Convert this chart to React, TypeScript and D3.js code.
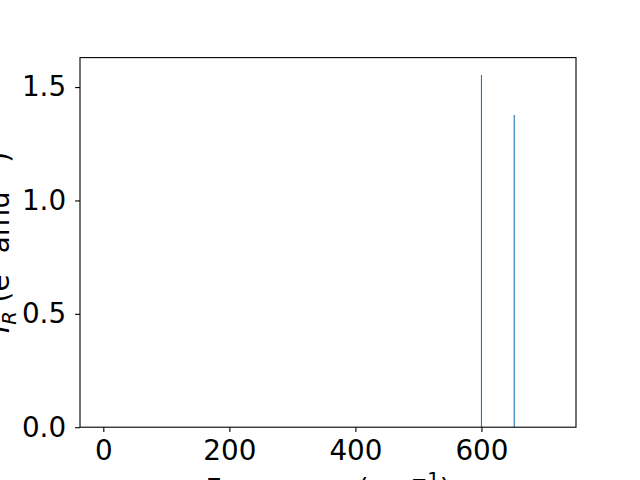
import React, { useEffect, useRef } from "react";
import * as d3 from "d3";

// IR spectrum sticks: frequency (cm^-1) and intensity
const frequencies = [600, 652];
const intensities = [1.553, 1.377];
const xTicks = [0, 200, 400, 600];
const yTicks = [0.0, 0.5, 1.0, 1.5];

export default function App() {
  const ref = useRef<SVGSVGElement>(null);

  useEffect(() => {
    const width = 640,
      height = 480;
    const left = 80,
      right = 576,
      top = 57.6,
      bottom = 427.2;
    const font = "DejaVu Sans, sans-serif";
    const fs = 27.8;
    const small = 19.5;

    const svg = d3.select(ref.current);
    svg.selectAll("*").remove();

    svg.append("rect").attr("width", width).attr("height", height).attr("fill", "white");

    const x = d3.scaleLinear().domain([-37, 750]).range([left, right]);
    const y = d3.scaleLinear().domain([0, 1.63]).range([bottom, top]);

    svg
      .append("g")
      .selectAll("line")
      .data(frequencies)
      .join("line")
      .attr("x1", (d) => x(d))
      .attr("x2", (d) => x(d))
      .attr("y1", y(0))
      .attr("y2", (d, i) => y(intensities[i]))
      .attr("stroke", "#1f77b4")
      .attr("stroke-width", 1.1);

    const xAxis = svg
      .append("g")
      .attr("transform", `translate(0,${bottom})`)
      .call(
        d3
          .axisBottom(x)
          .tickValues(xTicks)
          .tickFormat(d3.format("d"))
          .tickSizeInner(4.9)
          .tickSizeOuter(0)
          .tickPadding(8)
      );

    const yAxis = svg
      .append("g")
      .attr("transform", `translate(${left},0)`)
      .call(
        d3
          .axisLeft(y)
          .tickValues(yTicks)
          .tickFormat(d3.format(".1f"))
          .tickSizeInner(4.9)
          .tickSizeOuter(0)
          .tickPadding(9)
      );

    [xAxis, yAxis].forEach((g) => {
      g.select(".domain").remove();
      g.selectAll(".tick line").attr("stroke", "black").attr("stroke-width", 1.1);
      g.selectAll(".tick text")
        .attr("fill", "black")
        .style("font-family", font)
        .style("font-size", `${fs}px`);
    });

    svg
      .append("rect")
      .attr("x", left)
      .attr("y", top)
      .attr("width", right - left)
      .attr("height", bottom - top)
      .attr("fill", "none")
      .attr("stroke", "black")
      .attr("stroke-width", 1.1);

    const xl = svg
      .append("text")
      .attr("x", (left + right) / 2)
      .attr("y", 499)
      .attr("text-anchor", "middle")
      .attr("fill", "black")
      .style("font-family", font)
      .style("font-size", `${fs}px`);
    xl.append("tspan").text("Frequency (cm");
    xl.append("tspan").attr("dy", -13).style("font-size", `${small}px`).text("−1");
    xl.append("tspan").attr("dy", 13).text(")");

    const yl = svg
      .append("text")
      .attr("transform", `translate(9,${(top + bottom) / 2}) rotate(-90)`)
      .attr("text-anchor", "middle")
      .attr("fill", "black")
      .style("font-family", font)
      .style("font-size", `${fs}px`);
    yl.append("tspan").style("font-style", "italic").text("I");
    yl.append("tspan").attr("dy", 7).style("font-size", `${small}px`).style("font-style", "italic").text("R");
    yl.append("tspan").attr("dy", -7).text(" (e");
    yl.append("tspan").attr("dy", -11).style("font-size", `${small}px`).text("2");
    yl.append("tspan").attr("dy", 11).text(" amu");
    yl.append("tspan").attr("dy", -11).style("font-size", `${small}px`).text("−1");
    yl.append("tspan").attr("dy", 11).text(")");
  }, []);

  return (
    <svg
      ref={ref}
      width={640}
      height={480}
      style={{ display: "block", position: "absolute", left: 0, top: 0 }}
    />
  );
}
